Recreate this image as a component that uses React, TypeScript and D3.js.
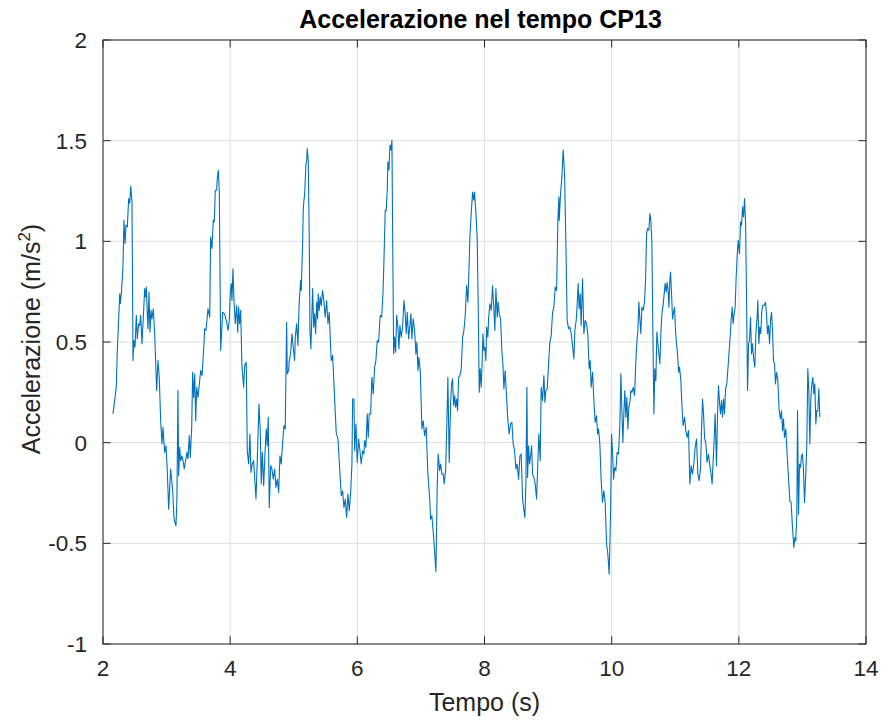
import React from "react";
import * as d3 from "d3";

const TITLE = "Accelerazione nel tempo CP13";
const X_LABEL = "Tempo (s)";
const Y_LABEL = "Accelerazione (m/s";
const X_TICKS = [2, 4, 6, 8, 10, 12, 14];
const Y_TICKS = [-1, -0.5, 0, 0.5, 1, 1.5, 2];

const TIME = [
  2.157, 2.209, 2.225, 2.263, 2.272, 2.288, 2.314, 2.33, 2.346, 2.362, 2.382, 2.404, 2.42, 2.436, 2.456, 2.472, 2.487, 2.503, 2.524, 2.539,
  2.561, 2.577, 2.593, 2.613, 2.634, 2.656, 2.671, 2.681, 2.697, 2.708, 2.723, 2.739, 2.755, 2.77, 2.791, 2.813, 2.844, 2.865, 2.885, 2.907,
  2.928, 2.943, 2.97, 2.991, 3.011, 3.033, 3.064, 3.096, 3.116, 3.132, 3.148, 3.163, 3.179, 3.19, 3.206, 3.222, 3.242, 3.263, 3.278, 3.294,
  3.321, 3.336, 3.357, 3.373, 3.395, 3.41, 3.426, 3.442, 3.458, 3.473, 3.494, 3.536, 3.557, 3.588, 3.599, 3.619, 3.651, 3.678, 3.693, 3.714,
  3.734, 3.75, 3.766, 3.788, 3.797, 3.813, 3.829, 3.851, 3.882, 3.913, 3.945, 3.965, 3.986, 4.002, 4.017, 4.028, 4.044, 4.06, 4.08, 4.102,
  4.118, 4.134, 4.149, 4.165, 4.186, 4.212, 4.228, 4.253, 4.269, 4.291, 4.311, 4.327, 4.347, 4.369, 4.385, 4.406, 4.426, 4.453, 4.473, 4.489,
  4.505, 4.527, 4.547, 4.568, 4.583, 4.599, 4.615, 4.637, 4.657, 4.678, 4.7, 4.72, 4.741, 4.763, 4.783, 4.803, 4.825, 4.846, 4.866, 4.888,
  4.898, 4.92, 4.929, 4.951, 4.972, 4.992, 5.014, 5.024, 5.046, 5.066, 5.086, 5.108, 5.118, 5.14, 5.149, 5.16, 5.171, 5.192, 5.203, 5.212,
  5.228, 5.244, 5.255, 5.27, 5.286, 5.297, 5.313, 5.329, 5.344, 5.36, 5.376, 5.385, 5.401, 5.417, 5.432, 5.454, 5.475, 5.495, 5.517, 5.538,
  5.558, 5.574, 5.59, 5.612, 5.632, 5.668, 5.695, 5.722, 5.747, 5.769, 5.789, 5.81, 5.832, 5.852, 5.873, 5.895, 5.915, 5.926, 5.947, 5.958,
  5.978, 5.998, 6.02, 6.041, 6.061, 6.083, 6.104, 6.115, 6.135, 6.156, 6.171, 6.187, 6.209, 6.229, 6.25, 6.272, 6.292, 6.313, 6.335, 6.351,
  6.36, 6.382, 6.403, 6.418, 6.439, 6.455, 6.47, 6.481, 6.497, 6.513, 6.528, 6.544, 6.555, 6.571, 6.586, 6.602, 6.618, 6.638, 6.654, 6.67,
  6.69, 6.712, 6.733, 6.753, 6.769, 6.785, 6.807, 6.822, 6.843, 6.858, 6.879, 6.901, 6.921, 6.937, 6.953, 6.968, 6.989, 7.016, 7.036, 7.058,
  7.083, 7.11, 7.137, 7.152, 7.173, 7.204, 7.236, 7.256, 7.272, 7.294, 7.31, 7.33, 7.351, 7.366, 7.388, 7.409, 7.424, 7.445, 7.467, 7.483,
  7.498, 7.514, 7.53, 7.546, 7.561, 7.577, 7.593, 7.613, 7.634, 7.656, 7.676, 7.697, 7.719, 7.739, 7.755, 7.77, 7.791, 7.813, 7.829, 7.844,
  7.865, 7.885, 7.901, 7.917, 7.932, 7.948, 7.964, 7.975, 7.991, 8.006, 8.022, 8.033, 8.053, 8.064, 8.085, 8.105, 8.127, 8.148, 8.163, 8.179,
  8.2, 8.215, 8.231, 8.253, 8.274, 8.289, 8.305, 8.325, 8.347, 8.368, 8.388, 8.41, 8.431, 8.451, 8.473, 8.494, 8.514, 8.536, 8.557, 8.577,
  8.599, 8.615, 8.635, 8.651, 8.667, 8.678, 8.693, 8.709, 8.725, 8.741, 8.756, 8.777, 8.797, 8.819, 8.84, 8.855, 8.876, 8.892, 8.913, 8.934,
  8.95, 8.965, 8.986, 9.008, 9.028, 9.049, 9.071, 9.091, 9.112, 9.134, 9.154, 9.17, 9.175, 9.196, 9.217, 9.237, 9.259, 9.28, 9.3, 9.322,
  9.343, 9.363, 9.385, 9.406, 9.421, 9.442, 9.457, 9.473, 9.489, 9.505, 9.52, 9.542, 9.563, 9.583, 9.605, 9.626, 9.646, 9.662, 9.678, 9.7,
  9.72, 9.741, 9.763, 9.778, 9.794, 9.814, 9.835, 9.857, 9.877, 9.898, 9.92, 9.94, 9.961, 9.983, 9.998, 10.014, 10.03, 10.046, 10.066, 10.086,
  10.108, 10.129, 10.145, 10.16, 10.176, 10.192, 10.207, 10.223, 10.239, 10.255, 10.27, 10.286, 10.302, 10.318, 10.338, 10.36, 10.381, 10.396, 10.412, 10.428,
  10.443, 10.459, 10.475, 10.495, 10.517, 10.533, 10.549, 10.564, 10.585, 10.601, 10.616, 10.632, 10.648, 10.664, 10.679, 10.695, 10.711, 10.727, 10.742, 10.758,
  10.774, 10.79, 10.805, 10.821, 10.841, 10.857, 10.873, 10.889, 10.9, 10.915, 10.926, 10.942, 10.957, 10.973, 10.989, 11.004, 11.02, 11.036, 11.052, 11.067,
  11.088, 11.109, 11.124, 11.146, 11.167, 11.187, 11.209, 11.23, 11.25, 11.272, 11.292, 11.313, 11.335, 11.355, 11.376, 11.398, 11.413, 11.429, 11.445, 11.461,
  11.481, 11.501, 11.523, 11.544, 11.564, 11.58, 11.596, 11.611, 11.627, 11.649, 11.665, 11.68, 11.696, 11.712, 11.728, 11.743, 11.759, 11.775, 11.791, 11.811,
  11.832, 11.848, 11.863, 11.879, 11.895, 11.911, 11.926, 11.942, 11.958, 11.974, 11.989, 12.011, 12.027, 12.043, 12.058, 12.074, 12.09, 12.106, 12.121, 12.137,
  12.153, 12.168, 12.184, 12.2, 12.215, 12.236, 12.252, 12.268, 12.288, 12.299, 12.315, 12.33, 12.346, 12.362, 12.377, 12.398, 12.42, 12.435, 12.451, 12.467,
  12.483, 12.498, 12.514, 12.53, 12.545, 12.561, 12.577, 12.593, 12.613, 12.634, 12.655, 12.671, 12.687, 12.703, 12.718, 12.739, 12.759, 12.781, 12.802, 12.822,
  12.844, 12.865, 12.881, 12.896, 12.912, 12.923, 12.939, 12.954, 12.97, 12.986, 13.001, 13.017, 13.033, 13.053, 13.069, 13.085, 13.101, 13.116, 13.132, 13.148,
  13.164, 13.179, 13.195, 13.211, 13.226, 13.242, 13.258, 13.274,
];

const ACCEL = [
  0.143, 0.275, 0.458, 0.74, 0.69, 0.74, 0.872, 1.104, 0.989, 1.08, 1.071, 1.212, 1.188, 1.274, 1.196, 0.408, 0.507, 0.474, 0.632, 0.516,
  0.591, 0.582, 0.632, 0.491, 0.623, 0.765, 0.723, 0.773, 0.64, 0.566, 0.748, 0.549, 0.657, 0.615, 0.665, 0.541, 0.259, 0.408, 0.325, 0.109,
  -0.006, 0.076, -0.048, -0.015, -0.139, -0.33, -0.131, -0.239, -0.372, -0.397, -0.413, -0.272, 0.259, -0.164, -0.023, -0.09, -0.065, -0.098, -0.131, -0.098,
  -0.048, -0.081, 0.035, -0.073, 0.076, 0.35, 0.225, 0.342, 0.109, 0.275, 0.225, 0.358, 0.333, 0.491, 0.566, 0.557, 0.665, 0.623, 1.021, 0.964,
  1.104, 1.096, 1.254, 1.254, 1.312, 1.353, 1.245, 0.458, 0.648, 0.64, 0.598, 0.557, 0.607, 0.748, 0.79, 0.706, 0.864, 0.706, 0.591, 0.682,
  0.549, 0.673, 0.591, 0.657, 0.375, 0.275, 0.383, 0.4, -0.04, -0.106, 0.043, -0.148, -0.106, -0.09, -0.173, -0.28, -0.09, 0.193, 0.06, -0.205,
  -0.048, -0.214, -0.056, 0.068, -0.015, 0.126, -0.322, -0.114, -0.131, -0.181, -0.131, -0.222, -0.181, -0.247, -0.065, -0.106, 0.001, 0.085, 0.068, 0.598,
  0.342, 0.358, 0.408, 0.441, 0.541, 0.474, 0.408, 0.524, 0.591, 0.483, 0.698, 0.806, 0.756, 0.997, 1.154, 1.204, 1.229, 1.387, 1.395, 1.461,
  1.403, 1.005, 0.557, 0.466, 0.648, 0.765, 0.574, 0.64, 0.541, 0.698, 0.615, 0.74, 0.657, 0.723, 0.682, 0.756, 0.698, 0.623, 0.706, 0.591,
  0.648, 0.516, 0.408, 0.433, 0.292, 0.051, 0.018, -0.123, -0.264, -0.239, -0.322, -0.28, -0.372, -0.255, -0.338, -0.247, -0.106, 0.217, 0.217, -0.04,
  0.093, -0.098, 0.018, -0.04, -0.106, -0.04, -0.056, 0.01, -0.023, 0.143, 0.026, 0.143, 0.143, 0.325, 0.242, 0.375, 0.408, 0.507, 0.499, 0.591,
  0.632, 0.623, 0.74, 0.897, 1.154, 1.154, 1.254, 1.395, 1.353, 1.478, 1.453, 1.502, 1.055, 0.441, 0.524, 0.449, 0.632, 0.574, 0.466, 0.582,
  0.524, 0.574, 0.706, 0.64, 0.541, 0.648, 0.516, 0.566, 0.64, 0.516, 0.615, 0.557, 0.441, 0.499, 0.358, 0.424, 0.358, 0.068, 0.109, 0.035,
  0.076, -0.156, -0.272, -0.38, -0.363, -0.488, -0.64, -0.222, -0.056, -0.139, -0.106, -0.156, -0.156, -0.205, -0.139, 0.109, 0.325, -0.098, 0.193, 0.292,
  0.317, 0.184, 0.234, 0.176, 0.217, 0.159, 0.325, 0.333, 0.367, 0.524, 0.557, 0.632, 0.781, 0.698, 0.856, 1.021, 1.138, 1.245, 1.204, 1.245,
  1.138, 1.021, 0.673, 0.25, 0.367, 0.275, 0.408, 0.541, 0.458, 0.474, 0.408, 0.574, 0.524, 0.615, 0.69, 0.657, 0.781, 0.657, 0.557, 0.765,
  0.623, 0.698, 0.64, 0.615, 0.449, 0.392, 0.267, 0.358, 0.225, 0.109, 0.043, 0.093, 0.101, -0.006, -0.04, -0.131, -0.106, -0.181, -0.065, -0.056,
  -0.28, -0.322, -0.372, -0.205, 0.275, -0.173, -0.015, -0.106, -0.065, -0.015, -0.156, -0.173, -0.205, -0.28, -0.09, 0.043, -0.09, 0.275, 0.209, 0.333,
  0.2, 0.259, 0.267, 0.392, 0.499, 0.532, 0.648, 0.673, 0.773, 0.756, 1.104, 1.22, 1.104, 1.237, 1.32, 1.453, 1.337, 0.989, 0.607, 0.566,
  0.574, 0.541, 0.483, 0.416, 0.557, 0.607, 0.682, 0.79, 0.665, 0.74, 0.582, 0.814, 0.541, 0.607, 0.591, 0.532, 0.367, 0.408, 0.275, 0.35,
  0.209, 0.101, 0.134, 0.043, 0.068, -0.006, -0.189, -0.297, -0.239, -0.297, -0.504, -0.554, -0.653, -0.338, 0.043, -0.048, -0.181, -0.123, -0.139, -0.048,
  -0.056, 0.093, 0.342, 0.159, 0.001, 0.151, 0.259, 0.126, 0.225, 0.068, 0.176, 0.2, 0.259, 0.25, 0.275, 0.234, 0.408, 0.499, 0.557, 0.698,
  0.615, 0.541, 0.673, 0.657, 0.698, 0.806, 1.038, 1.063, 1.055, 1.138, 1.104, 0.997, 0.557, 0.143, 0.367, 0.308, 0.549, 0.491, 0.441, 0.392,
  0.541, 0.64, 0.673, 0.723, 0.79, 0.748, 0.797, 0.748, 0.673, 0.806, 0.847, 0.74, 0.615, 0.648, 0.673, 0.557, 0.491, 0.441, 0.35, 0.375,
  0.308, 0.159, 0.085, 0.126, 0.06, 0.026, 0.06, -0.205, -0.114, -0.156, -0.106, -0.023, 0.018, -0.156, -0.189, -0.123, 0.06, 0.217, 0.143, 0.026,
  -0.006, -0.098, -0.056, -0.114, -0.156, -0.205, -0.09, 0.01, 0.143, -0.114, 0.143, 0.284, 0.2, 0.143, 0.209, 0.126, 0.217, 0.143, 0.267, 0.292,
  0.383, 0.458, 0.524, 0.607, 0.673, 0.591, 0.64, 0.673, 0.822, 0.93, 1.005, 0.939, 1.096, 1.08, 1.171, 1.121, 1.212, 1.088, 0.723, 0.259,
  0.491, 0.507, 0.623, 0.441, 0.491, 0.408, 0.375, 0.541, 0.623, 0.706, 0.491, 0.574, 0.541, 0.657, 0.682, 0.682, 0.698, 0.64, 0.541, 0.582,
  0.491, 0.607, 0.648, 0.557, 0.408, 0.392, 0.292, 0.35, 0.308, 0.159, 0.118, 0.159, 0.06, 0.118, 0.026, 0.068, -0.056, -0.173, -0.289, -0.297,
  -0.421, -0.521, -0.471, -0.488, -0.355, 0.159, -0.355, -0.106, -0.123, -0.065, -0.056, -0.139, -0.297, -0.156, -0.006, 0.367, 0.259, -0.006, 0.209, 0.292,
  0.325, 0.242, 0.292, 0.093, 0.159, 0.159, 0.267, 0.126,
];

const W = 885;
const H = 721;
const M = { left: 103, right: 866, top: 40, bottom: 644 };
const AXIS_COLOR = "#262626";
const GRID_COLOR = "#dfdfdf";
const LINE_COLOR = "#0072BD";
const FONT = "'Liberation Sans', Arial, Helvetica, sans-serif";
const TICK_FONT = 22.5;

export default function App() {
  const x = d3.scaleLinear().domain([2, 14]).range([M.left, M.right]);
  const y = d3.scaleLinear().domain([-1, 2]).range([M.bottom, M.top]);
  const pts: [number, number][] = TIME.map((t, i) => [t, ACCEL[i]]);
  const line = d3
    .line<[number, number]>()
    .x((d) => x(d[0]))
    .y((d) => y(d[1]));
  const tickLen = 7.6;
  const fmt = (v: number) => String(v);

  return (
    <div style={{ position: "fixed", left: 0, top: 0 }}>
      <svg width={W} height={H} style={{ display: "block", background: "#fff" }} fontFamily={FONT}>
        <rect x={0} y={0} width={W} height={H} fill="#fff" />
        {X_TICKS.map((t) => (
          <line key={"gx" + t} x1={x(t)} x2={x(t)} y1={M.top} y2={M.bottom} stroke={GRID_COLOR} strokeWidth={1} />
        ))}
        {Y_TICKS.map((t) => (
          <line key={"gy" + t} x1={M.left} x2={M.right} y1={y(t)} y2={y(t)} stroke={GRID_COLOR} strokeWidth={1} />
        ))}
        <path d={line(pts) || ""} fill="none" stroke={LINE_COLOR} strokeWidth={1.1} strokeLinejoin="round" />
        <rect x={M.left} y={M.top} width={M.right - M.left} height={M.bottom - M.top} fill="none" stroke={AXIS_COLOR} strokeWidth={1} />
        {X_TICKS.map((t) => (
          <g key={"tx" + t}>
            <line x1={x(t)} x2={x(t)} y1={M.bottom} y2={M.bottom - tickLen} stroke={AXIS_COLOR} />
            <line x1={x(t)} x2={x(t)} y1={M.top} y2={M.top + tickLen} stroke={AXIS_COLOR} />
            <text x={x(t)} y={M.bottom + 32} textAnchor="middle" fontSize={TICK_FONT} fill={AXIS_COLOR}>
              {fmt(t)}
            </text>
          </g>
        ))}
        {Y_TICKS.map((t) => (
          <g key={"ty" + t}>
            <line x1={M.left} x2={M.left + tickLen} y1={y(t)} y2={y(t)} stroke={AXIS_COLOR} />
            <line x1={M.right} x2={M.right - tickLen} y1={y(t)} y2={y(t)} stroke={AXIS_COLOR} />
            <text x={M.left - 16} y={y(t) + 8} textAnchor="end" fontSize={TICK_FONT} fill={AXIS_COLOR}>
              {fmt(t)}
            </text>
          </g>
        ))}
        <text x={(M.left + M.right) / 2 - 4} y={28} textAnchor="middle" fontSize={25} fontWeight="bold" fill="#000">
          {TITLE}
        </text>
        <text x={(M.left + M.right) / 2} y={711} textAnchor="middle" fontSize={25} fill={AXIS_COLOR}>
          {X_LABEL}
        </text>
        <text
          transform={`translate(40, ${(M.top + M.bottom) / 2 - 3}) rotate(-90)`}
          textAnchor="middle"
          fontSize={25}
          fill={AXIS_COLOR}
        >
          {Y_LABEL}
          <tspan fontSize={17} dy={-10}>2</tspan>
          <tspan dy={10}>)</tspan>
        </text>
      </svg>
    </div>
  );
}
